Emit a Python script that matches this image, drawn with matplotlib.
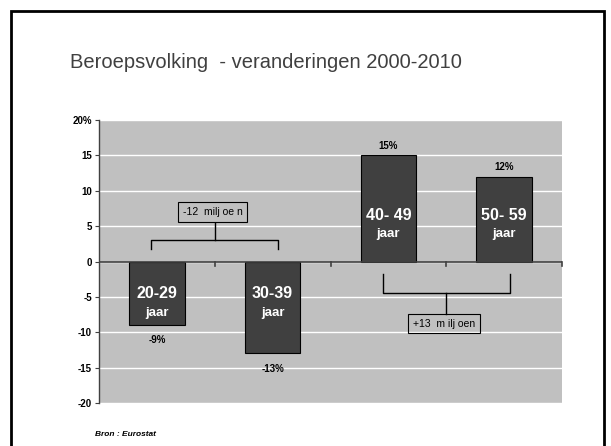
import matplotlib
matplotlib.use("Agg")
import matplotlib.pyplot as plt
from matplotlib.patches import Rectangle

plt.rcParams['font.family'] = ['Liberation Sans', 'DejaVu Sans']

# data
groups = ["20-29", "30-39", "40- 49", "50- 59"]
changes = [-9, -13, 15, 12]
value_labels = ["-9%", "-13%", "15%", "12%"]
yticks = [20, 15, 10, 5, 0, -5, -10, -15, -20]
ytick_labels = ["20%", "15", "10", "5", "0", "-5", "-10", "-15", "-20"]
brackets = [
    # (first bar, second bar, text)
    (0, 1, "-12  milj oe n"),
    (2, 3, "+13  m ilj oen"),
]

W, H = 611, 446
fig = plt.figure(figsize=(W / 100, H / 100), dpi=100)
fig.patch.set_facecolor("white")

# slide frame
fig.add_artist(Rectangle((11 / W, -0.05), 593 / W, (H - 11) / H + 0.05,
                         transform=fig.transFigure, fill=False,
                         edgecolor="black", linewidth=2))

fig.text(70 / W, 1 - 63 / H, "Beroepsvolking  - veranderingen 2000-2010",
         fontsize=14.5, color="#404040", va="center", ha="left")
fig.text(95 / W, 1 - 435 / H, "Bron : Eurostat", fontsize=6,
         fontweight="bold", fontstyle="italic", va="center", ha="left")

ax = fig.add_axes([99 / W, (H - 403) / H, 463 / W, 283 / H])
ax.set_facecolor("#c0c0c0")
x = list(range(len(groups)))
ax.set_xlim(-0.5, len(groups) - 0.5)
ax.set_ylim(-20, 20)
for t in yticks:
    ax.axhline(t, color="white", linewidth=1, zorder=1)

ax.bar(x, changes, width=0.48, color="#404040", edgecolor="black",
       linewidth=0.8, zorder=3)

# zero axis with category ticks
ax.axhline(0, color="#404040", linewidth=1.2, zorder=4)
for b in range(1, len(groups) + 1):
    ax.plot([b - 0.5, b - 0.5], [0, -0.6], color="#404040", lw=1.2, zorder=4,
            clip_on=False)

for xi, v, lab, g in zip(x, changes, value_labels, groups):
    if v < 0:
        ax.annotate(lab, (xi, v), xytext=(0, -11), textcoords="offset points",
                    ha="center", va="center", fontsize=7, fontweight="bold")
        y_g, y_j = -4.5, -7.3
    else:
        ax.annotate(lab, (xi, v), xytext=(0, 7), textcoords="offset points",
                    ha="center", va="center", fontsize=7, fontweight="bold")
        y_g, y_j = 6.5, 3.9
    ax.text(xi, y_g, g, ha="center", va="center", color="white",
            fontsize=11.5, fontweight="bold", zorder=5)
    ax.text(xi, y_j, "jaar", ha="center", va="center", color="white",
            fontsize=9.5, fontweight="bold", zorder=5)

# brackets with boxed totals
for a, b, txt in brackets:
    x0, x1 = a - 0.05, b + 0.05
    xm = (x0 + x1) / 2
    if changes[a] < 0:
        y_end, y_bar, y_box, y_box_edge = 1.7, 3.0, 7.0, 5.5
    else:
        y_end, y_bar, y_box, y_box_edge = -1.7, -4.5, -8.8, -7.35
    ax.plot([x0, x0, x1, x1], [y_end, y_bar, y_bar, y_end], color="black",
            lw=1, zorder=4)
    ax.plot([xm, xm], [y_bar, y_box_edge], color="black", lw=1, zorder=4)
    ax.text(xm - 0.02, y_box, txt, ha="center", va="center", fontsize=7.5,
            zorder=5,
            bbox=dict(boxstyle="square,pad=0.45", facecolor="none",
                      edgecolor="black", linewidth=0.8))

ax.set_xticks([])
ax.set_yticks(yticks)
ax.set_yticklabels(ytick_labels, fontsize=7, fontweight="bold")
ax.tick_params(axis="y", length=3, width=0.8, color="#404040", pad=2)
for s in ["top", "right", "bottom"]:
    ax.spines[s].set_visible(False)
ax.spines["left"].set_color("#404040")
ax.spines["left"].set_linewidth(1)

fig.savefig("out.png", dpi=100)
